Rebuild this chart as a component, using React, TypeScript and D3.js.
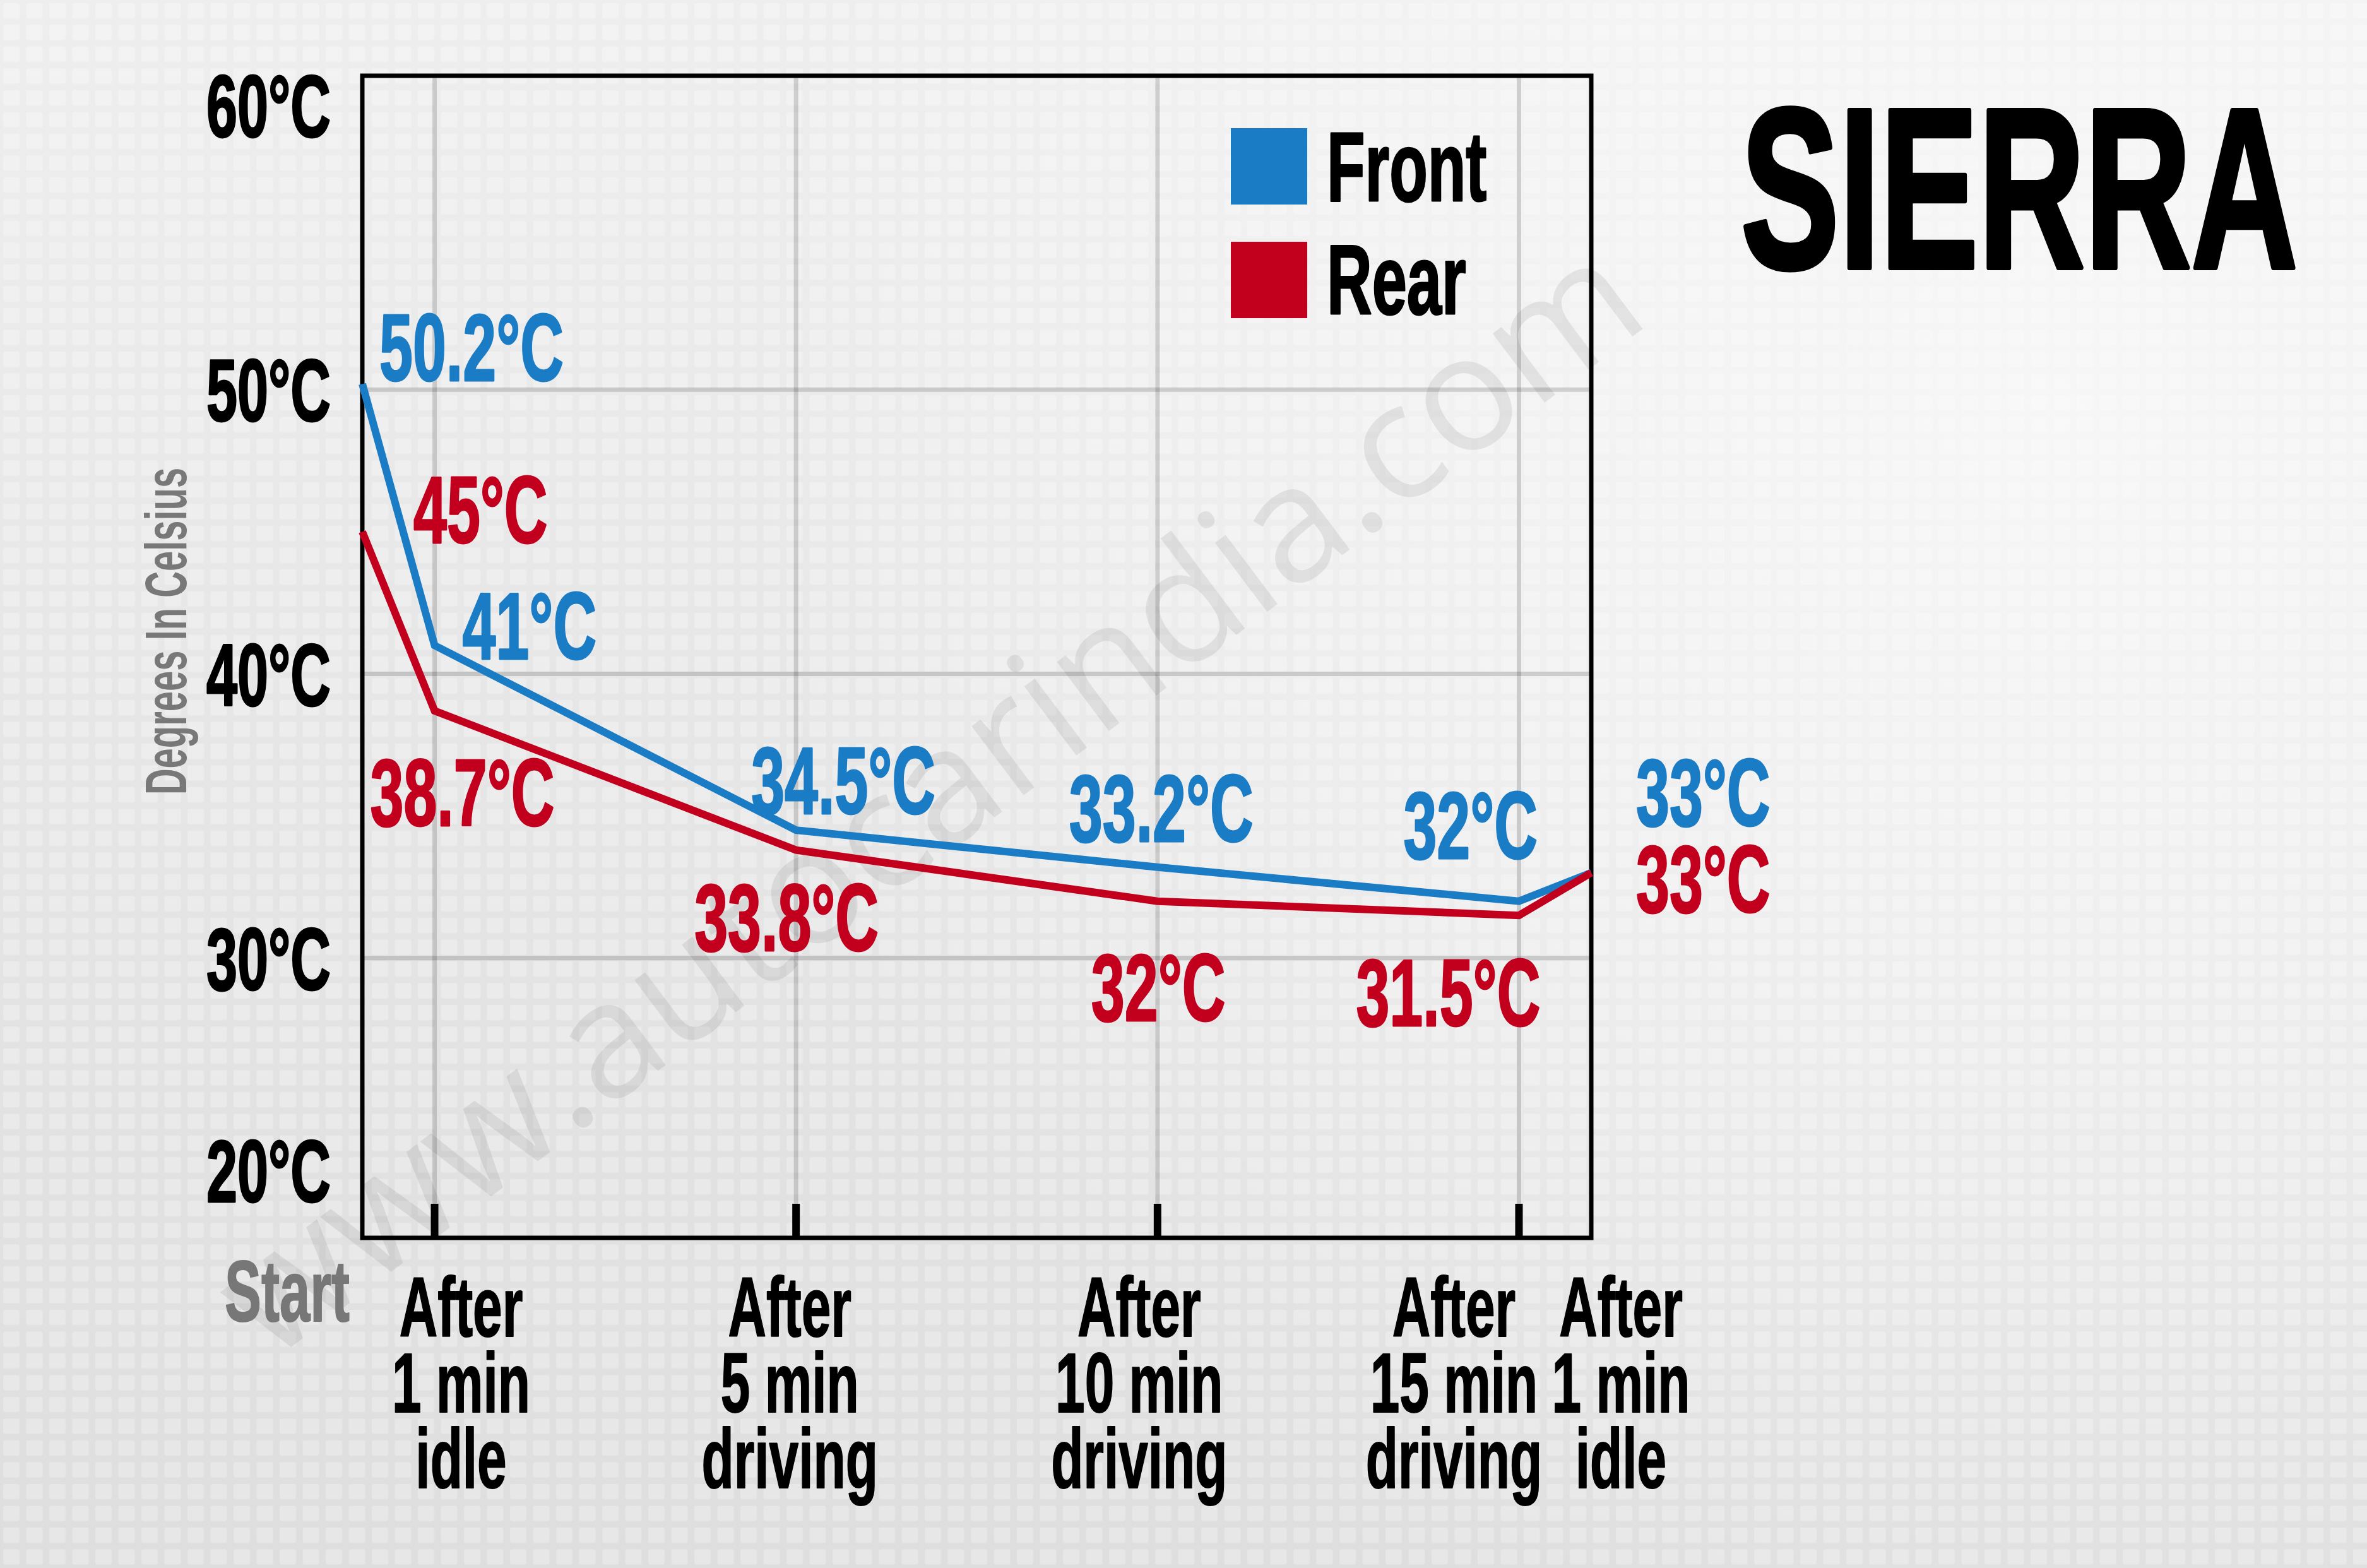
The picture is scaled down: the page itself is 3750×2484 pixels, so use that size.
import React from "react";
import * as d3 from "d3";

// ---------- data ----------
const categories: string[][] = [
  ["Start"],
  ["After", "1 min", "idle"],
  ["After", "5 min", "driving"],
  ["After", "10 min", "driving"],
  ["After", "15 min", "driving"],
  ["After", "1 min", "idle"],
];
const elapsedMinutes = [0, 1, 6, 11, 16, 17];
const frontTemps = [50.2, 41, 34.5, 33.2, 32, 33];
const rearTemps = [45, 38.7, 33.8, 32, 31.5, 33];
const yTickValues = [20, 30, 40, 50, 60];
const gridTemps = [30, 40, 50];
const seriesNames = ["Front", "Rear"];
const title = "SIERRA";
const yTitle = "Degrees In Celsius";
const watermark = "www.autocarindia.com";

// ---------- layout / style ----------
const W = 3750;
const H = 2484;
const FRAME = { left: 574, right: 2521, top: 120, bottom: 1961 };
const BLUE = "#1b7cc6";
const RED = "#c2001e";
const FONT = "'Liberation Sans', Arial, sans-serif";
const SX = 0.63;

// label offsets from their points (px)
const frontLabelOffsets = [
  [27, -5], [44, 22], [-71, -26], [-140, -41], [-183, -68], [71, -75],
];
const rearLabelOffsets = [
  [81, 18], [-102, 182], [-161, 159], [-105, 189], [-258, 175], [71, 62],
];
const categoryNudge = [-119, 42, -10, -29, -103, 47];

const x = d3.scaleLinear().domain([0, 17]).range([FRAME.left, FRAME.right]);
const y = d3.scaleLinear().domain([20, 60]).range([1968, 167]);

function CText(props: {
  x: number; y: number; anchor?: string; size: number; fill: string;
  sx?: number; weight?: string | number; stroke?: number; children: React.ReactNode;
}) {
  const { x: tx, y: ty, anchor = "start", size, fill, sx = SX, weight = "bold", stroke = 0, children } = props;
  return (
    <text
      transform={`translate(${tx},${ty}) scale(${sx},1)`}
      textAnchor={anchor}
      fontSize={size}
      fontWeight={weight}
      fontFamily={FONT}
      fill={fill}
      stroke={stroke ? fill : "none"}
      strokeWidth={stroke}
      strokeLinejoin="round"
    >
      {children}
    </text>
  );
}

export default function App() {
  const pts = (vals: number[]) => vals.map((v, i) => [x(elapsedMinutes[i]), y(v)] as [number, number]);
  const line = d3.line<[number, number]>();
  const frontPts = pts(frontTemps);
  const rearPts = pts(rearTemps);
  const innerTicks = elapsedMinutes.slice(1, -1);
  const tickLabelY = (v: number) =>
    Math.min(Math.max(y(v), FRAME.top + 26), FRAME.bottom - 107) + 50;

  return (
    <svg
      width={W}
      height={H}
      viewBox={`0 0 ${W} ${H}`}
      style={{ position: "absolute", left: 0, top: 0, display: "block" }}
    >
      <defs>
        <linearGradient id="bgLin" x1="0" y1="0" x2="0" y2="1">
          <stop offset="0" stopColor="#f3f3f3" />
          <stop offset="1" stopColor="#e2e2e2" />
        </linearGradient>
        <radialGradient id="bgGlow" cx={3250} cy={650} r={2100} gradientUnits="userSpaceOnUse">
          <stop offset="0" stopColor="#ffffff" stopOpacity={0.8} />
          <stop offset="0.6" stopColor="#ffffff" stopOpacity={0.35} />
          <stop offset="1" stopColor="#ffffff" stopOpacity={0} />
        </radialGradient>
        <pattern id="cells" width={36.5} height={34.5} patternUnits="userSpaceOnUse">
          <rect x={0} y={0} width={36.5} height={34.5} fill="#000" opacity={0.018} />
          <rect x={5} y={5} width={26} height={24} rx={3} fill="#fff" opacity={0.28} />
        </pattern>
      </defs>

      {/* background */}
      <rect width={W} height={H} fill="url(#bgLin)" />
      <rect width={W} height={H} fill="url(#bgGlow)" />
      <rect width={W} height={H} fill="url(#cells)" />

      {/* gridlines */}
      <g stroke="#000" strokeOpacity={0.15} strokeWidth={7}>
        {gridTemps.map((t) => (
          <line key={`h${t}`} x1={FRAME.left} x2={FRAME.right} y1={y(t)} y2={y(t)} />
        ))}
        {innerTicks.map((m) => (
          <line key={`v${m}`} x1={x(m)} x2={x(m)} y1={FRAME.top} y2={FRAME.bottom} />
        ))}
      </g>

      {/* watermark */}
      <text
        transform="translate(1470,1262) rotate(-37)"
        textAnchor="middle"
        dy="0.35em"
        fontSize={256}
        fontFamily="'Open Sans', 'DejaVu Sans', sans-serif"
        fill="#000"
        opacity={0.07}
      >
        {watermark}
      </text>

      {/* frame */}
      <rect
        x={FRAME.left}
        y={FRAME.top}
        width={FRAME.right - FRAME.left}
        height={FRAME.bottom - FRAME.top}
        fill="none"
        stroke="#000"
        strokeWidth={7}
      />
      {/* inner ticks */}
      <g stroke="#000" strokeWidth={12}>
        {innerTicks.map((m) => (
          <line key={`t${m}`} x1={x(m)} x2={x(m)} y1={FRAME.bottom - 54} y2={FRAME.bottom} />
        ))}
      </g>

      {/* series lines */}
      <path d={line(frontPts) || ""} fill="none" stroke={BLUE} strokeWidth={12} strokeLinejoin="miter" />
      <path d={line(rearPts) || ""} fill="none" stroke={RED} strokeWidth={12} strokeLinejoin="miter" />

      {/* value labels */}
      {frontPts.map(([px, py], i) => (
        <CText key={`fl${i}`} x={px + frontLabelOffsets[i][0]} y={py + frontLabelOffsets[i][1]} size={151} fill={BLUE} stroke={3}>
          {`${frontTemps[i]}°C`}
        </CText>
      ))}
      {rearPts.map(([px, py], i) => (
        <CText key={`rl${i}`} x={px + rearLabelOffsets[i][0]} y={py + rearLabelOffsets[i][1]} size={151} fill={RED} stroke={3}>
          {`${rearTemps[i]}°C`}
        </CText>
      ))}

      {/* y tick labels */}
      {yTickValues.map((v) => (
        <CText key={`yt${v}`} x={524} y={tickLabelY(v)} anchor="end" size={140} fill="#000" stroke={3}>
          {`${v}°C`}
        </CText>
      ))}

      {/* y title */}
      <text
        transform={`translate(295,1000) rotate(-90) scale(${SX},1)`}
        textAnchor="middle"
        fontSize={92}
        fontWeight="bold"
        fontFamily={FONT}
        fill="#787878"
      >
        {yTitle}
      </text>

      {/* category labels */}
      {categories.map((lines, i) => (
        <g key={`c${i}`}>
          {lines.map((ln, j) => (
            <CText
              key={j}
              x={x(elapsedMinutes[i]) + categoryNudge[i]}
              y={(i === 0 ? 2093 : 2117) + j * 120}
              anchor="middle"
              size={i === 0 ? 138 : 133}
              fill={i === 0 ? "#777777" : "#000"}
              stroke={2}
            >
              {ln}
            </CText>
          ))}
        </g>
      ))}

      {/* legend */}
      {seriesNames.map((name, i) => (
        <g key={name}>
          <rect x={1950} y={203 + i * 180} width={121} height={121} fill={i === 0 ? BLUE : RED} />
          <CText x={2102} y={318 + i * 179} size={155} fill="#000" sx={0.64} stroke={3}>
            {name}
          </CText>
        </g>
      ))}

      {/* title */}
      <CText x={2758} y={424} size={362} fill="#000" sx={0.645} stroke={8}>
        {title}
      </CText>
    </svg>
  );
}
